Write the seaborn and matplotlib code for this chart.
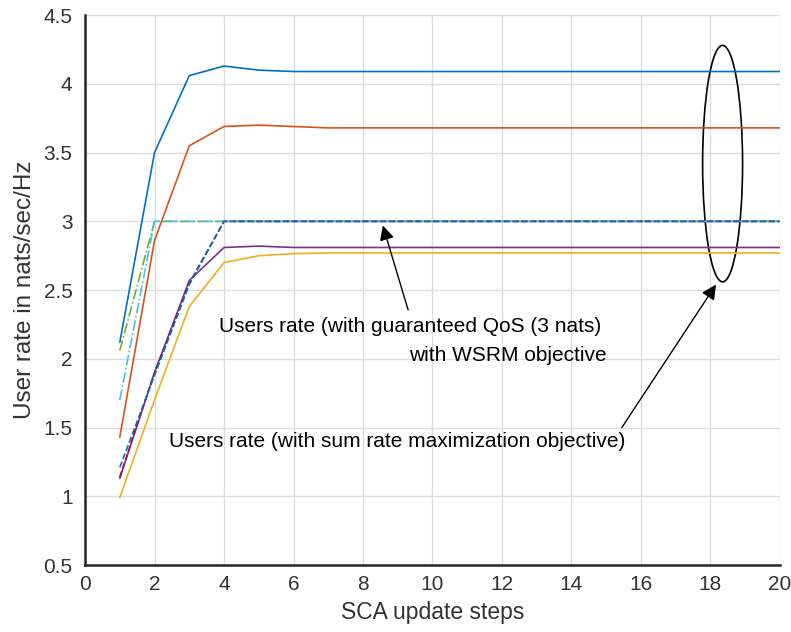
import matplotlib
matplotlib.use("Agg")
import matplotlib.pyplot as plt
import seaborn as sns
from matplotlib.patches import Ellipse

# ---------------- data ----------------
steps = list(range(1, 21))

# sum-rate maximization objective (solid lines)
sum_user1 = [2.12, 3.50, 4.06, 4.13, 4.10, 4.09, 4.09, 4.09, 4.09, 4.09,
             4.09, 4.09, 4.09, 4.09, 4.09, 4.09, 4.09, 4.09, 4.09, 4.09]
sum_user2 = [1.43, 2.86, 3.55, 3.69, 3.70, 3.69, 3.68, 3.68, 3.68, 3.68,
             3.68, 3.68, 3.68, 3.68, 3.68, 3.68, 3.68, 3.68, 3.68, 3.68]
sum_user3 = [0.99, 1.70, 2.38, 2.70, 2.75, 2.765, 2.77, 2.77, 2.77, 2.77,
             2.77, 2.77, 2.77, 2.77, 2.77, 2.77, 2.77, 2.77, 2.77, 2.77]
sum_user4 = [1.13, 1.90, 2.57, 2.81, 2.82, 2.81, 2.81, 2.81, 2.81, 2.81,
             2.81, 2.81, 2.81, 2.81, 2.81, 2.81, 2.81, 2.81, 2.81, 2.81]

# guaranteed QoS (3 nats) with WSRM objective (dashed lines)
qos_user1 = [2.06, 3.00, 3.00, 3.00, 3.00, 3.00, 3.00, 3.00, 3.00, 3.00,
             3.00, 3.00, 3.00, 3.00, 3.00, 3.00, 3.00, 3.00, 3.00, 3.00]
qos_user2 = [1.70, 3.00, 3.00, 3.00, 3.00, 3.00, 3.00, 3.00, 3.00, 3.00,
             3.00, 3.00, 3.00, 3.00, 3.00, 3.00, 3.00, 3.00, 3.00, 3.00]
qos_user3 = [1.14, 1.90, 2.55, 3.00, 3.00, 3.00, 3.00, 3.00, 3.00, 3.00,
             3.00, 3.00, 3.00, 3.00, 3.00, 3.00, 3.00, 3.00, 3.00, 3.00]
qos_user4 = [1.21, 1.88, 2.54, 3.00, 3.00, 3.00, 3.00, 3.00, 3.00, 3.00,
             3.00, 3.00, 3.00, 3.00, 3.00, 3.00, 3.00, 3.00, 3.00, 3.00]

x_ticks = [0, 2, 4, 6, 8, 10, 12, 14, 16, 18, 20]
y_ticks = [0.5, 1, 1.5, 2, 2.5, 3, 3.5, 4, 4.5]
y_tick_labels = ["0.5", "1", "1.5", "2", "2.5", "3", "3.5", "4", "4.5"]

label_qos_1 = "Users rate (with guaranteed QoS (3 nats)"
label_qos_2 = "with WSRM objective"
label_sum = "Users rate (with sum rate maximization objective)"

# ---------------- style ----------------
sns.set_style("white")
plt.rcParams["font.family"] = ["Liberation Sans", "DejaVu Sans"]

fig = plt.figure(figsize=(7.91, 6.32), dpi=100)
ax = fig.add_axes([0.1075, 0.106, 0.8785, 0.870])

sum_series = [(sum_user1, "#0072BD"), (sum_user2, "#D95319"),
              (sum_user3, "#EDB120"), (sum_user4, "#7E2F8E")]
qos_series = [(qos_user1, "#77AC30", "-."), (qos_user2, "#4DBEEE", "-."),
              (qos_user3, "#A2142F", "--"), (qos_user4, "#0072BD", "--")]

for vals, col in sum_series:
    sns.lineplot(x=steps, y=vals, color=col, linewidth=1.2, ax=ax)
for vals, col, ls in qos_series:
    sns.lineplot(x=steps, y=vals, color=col, linewidth=1.2, linestyle=ls, ax=ax)

ax.set_xlim(0, 20)
ax.set_ylim(0.5, 4.5)
ax.set_xticks(x_ticks)
ax.set_xticklabels([str(t) for t in x_ticks])
ax.set_yticks(y_ticks)
ax.set_yticklabels(y_tick_labels)

ax.grid(True, color="#dcdcdc", linewidth=1.0)
ax.set_axisbelow(True)
for s in ["top", "right"]:
    ax.spines[s].set_visible(False)
for s in ["left", "bottom"]:
    ax.spines[s].set_color("#262626")
    ax.spines[s].set_linewidth(1.8)

ax.tick_params(axis="both", direction="in", length=5, width=1.5,
               colors="#262626", labelsize=15, labelcolor="#333333")
ax.tick_params(axis="y", pad=9)
ax.tick_params(axis="x", pad=7)

ax.set_xlabel("SCA update steps", fontsize=16.5, color="#333333", labelpad=5)
ax.set_ylabel("User rate in nats/sec/Hz", fontsize=17.5, color="#333333", labelpad=5)

# annotations
ax.annotate("", xy=(8.57, 2.97), xytext=(9.30, 2.355),
            arrowprops=dict(arrowstyle="-|>", color="black", lw=1.0,
                            mutation_scale=22, shrinkA=0, shrinkB=0))
ax.text(9.35, 2.233, label_qos_1, ha="center", va="center", fontsize=15, color="black")
ax.text(12.16, 2.027, label_qos_2, ha="center", va="center", fontsize=15, color="black")
ax.text(8.98, 1.40, label_sum, ha="center", va="center", fontsize=15, color="black")
ax.annotate("", xy=(18.16, 2.54), xytext=(15.45, 1.50),
            arrowprops=dict(arrowstyle="-|>", color="black", lw=1.0,
                            mutation_scale=22, shrinkA=0, shrinkB=0))
ax.add_patch(Ellipse((18.35, 3.42), 1.15, 1.72, fill=False,
                     edgecolor="black", linewidth=1.2))

fig.savefig("out.png", dpi=100)
